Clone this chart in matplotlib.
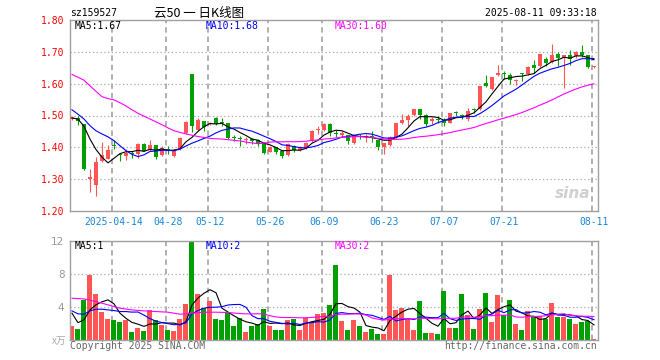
import matplotlib
matplotlib.use("Agg")
import matplotlib.pyplot as plt

# daily candles, 88 trading days ending 2025-08-11
opens = [1.488, 1.491, 1.473, 1.302, 1.283, 1.356, 1.364, 1.408, 1.379, 1.374,
         1.382, 1.379, 1.412, 1.392, 1.407, 1.376, 1.393, 1.372, 1.395, 1.445,
         1.629, 1.455, 1.483, 1.472, 1.493, 1.479, 1.476, 1.431, 1.427, 1.423,
         1.425, 1.423, 1.415, 1.386, 1.400, 1.387, 1.376, 1.405, 1.393, 1.397,
         1.421, 1.455, 1.455, 1.473, 1.444, 1.440, 1.439, 1.414, 1.436, 1.431,
         1.433, 1.423, 1.400, 1.407, 1.431, 1.476, 1.485, 1.501, 1.520, 1.503,
         1.482, 1.487, 1.487, 1.478, 1.509, 1.503, 1.489, 1.518, 1.520, 1.601,
         1.582, 1.628, 1.632, 1.626, 1.608, 1.630, 1.629, 1.660, 1.655, 1.679,
         1.669, 1.692, 1.680, 1.689, 1.686, 1.700, 1.690, 1.652]
closes = [1.496, 1.482, 1.332, 1.303, 1.353, 1.376, 1.392, 1.404, 1.376, 1.383,
          1.378, 1.412, 1.388, 1.407, 1.370, 1.397, 1.390, 1.392, 1.428, 1.480,
          1.466, 1.485, 1.465, 1.478, 1.473, 1.476, 1.430, 1.429, 1.425, 1.426,
          1.421, 1.410, 1.382, 1.400, 1.384, 1.372, 1.410, 1.392, 1.396, 1.414,
          1.452, 1.457, 1.473, 1.445, 1.442, 1.443, 1.419, 1.436, 1.431, 1.436,
          1.431, 1.400, 1.413, 1.433, 1.476, 1.486, 1.499, 1.520, 1.501, 1.474,
          1.488, 1.485, 1.478, 1.507, 1.507, 1.497, 1.515, 1.516, 1.593, 1.593,
          1.622, 1.634, 1.630, 1.613, 1.613, 1.629, 1.653, 1.650, 1.692, 1.664,
          1.689, 1.680, 1.689, 1.678, 1.700, 1.690, 1.653, 1.654]
highs = [1.499, 1.500, 1.473, 1.332, 1.369, 1.416, 1.407, 1.424, 1.380, 1.394,
         1.390, 1.413, 1.414, 1.424, 1.408, 1.403, 1.403, 1.395, 1.431, 1.483,
         1.629, 1.493, 1.484, 1.481, 1.496, 1.493, 1.478, 1.439, 1.436, 1.434,
         1.430, 1.426, 1.416, 1.405, 1.400, 1.390, 1.413, 1.407, 1.403, 1.416,
         1.455, 1.466, 1.476, 1.476, 1.454, 1.452, 1.440, 1.442, 1.442, 1.442,
         1.450, 1.424, 1.413, 1.435, 1.478, 1.504, 1.504, 1.520, 1.520, 1.504,
         1.496, 1.498, 1.491, 1.508, 1.515, 1.504, 1.523, 1.523, 1.593, 1.626,
         1.622, 1.660, 1.640, 1.634, 1.616, 1.632, 1.655, 1.674, 1.692, 1.684,
         1.726, 1.700, 1.689, 1.705, 1.702, 1.720, 1.690, 1.656]
lows = [1.485, 1.470, 1.329, 1.261, 1.246, 1.355, 1.363, 1.395, 1.358, 1.361,
        1.367, 1.367, 1.387, 1.390, 1.364, 1.374, 1.379, 1.370, 1.393, 1.442,
        1.449, 1.452, 1.452, 1.470, 1.470, 1.466, 1.426, 1.420, 1.405, 1.410,
        1.412, 1.405, 1.378, 1.384, 1.378, 1.368, 1.374, 1.384, 1.390, 1.395,
        1.418, 1.441, 1.452, 1.436, 1.433, 1.431, 1.410, 1.410, 1.426, 1.418,
        1.416, 1.393, 1.379, 1.405, 1.430, 1.473, 1.466, 1.499, 1.489, 1.468,
        1.474, 1.478, 1.468, 1.475, 1.497, 1.489, 1.483, 1.507, 1.518, 1.590,
        1.580, 1.624, 1.615, 1.600, 1.595, 1.608, 1.627, 1.634, 1.653, 1.655,
        1.666, 1.657, 1.587, 1.660, 1.681, 1.684, 1.650, 1.650]
# volume in 万
volumes = [1.65, 1.37, 4.86, 7.87, 5.58, 3.45, 2.57, 2.45, 2.2, 2.45,
           1.0, 1.5, 1.1, 3.65, 2.45, 1.8, 1.25, 1.1, 2.57, 4.38,
           11.85, 5.58, 3.93, 4.74, 2.57, 2.45, 3.25, 1.65, 2.69, 1.0,
           1.65, 1.97, 3.78, 1.65, 1.25, 1.25, 2.45, 2.57, 1.25, 2.65,
           2.2, 3.17, 3.29, 4.26, 9.08, 2.33, 1.25, 2.45, 1.73, 1.0,
           1.37, 0.76, 0.76, 7.87, 3.65, 3.9, 2.5, 1.23, 4.74, 0.85,
           0.81, 0.75, 5.94, 1.49, 1.5, 5.58, 3.04, 1.35, 3.77, 5.7,
           2.21, 5.45, 3.03, 4.85, 1.95, 1.23, 3.5, 2.85, 2.9, 2.52,
           4.46, 2.82, 2.82, 2.58, 1.95, 2.21, 2.25, 0.13]

# moving average values before enough days are in the window
ma5_head = [1.492, 1.489, 1.466, 1.426]
ma10_head = [1.518, 1.504, 1.489, 1.468, 1.452, 1.442, 1.433, 1.421, 1.405]
ma30_head = [1.629, 1.620, 1.611, 1.593, 1.576, 1.559, 1.553, 1.549, 1.540, 1.530,
             1.518, 1.507, 1.498, 1.489, 1.480, 1.471, 1.461, 1.452, 1.447, 1.442,
             1.438, 1.434, 1.431, 1.428, 1.427, 1.426, 1.424, 1.422, 1.420]
vma5_head = [3.25, 2.1, 2.45, 3.65]
vma10_head = [3.53, 3.17, 3.13, 3.53, 3.73, 3.73, 3.65, 3.57, 3.45]
vma30_head = [5.06, 5.02, 4.98, 4.82, 4.66, 4.46, 4.26, 4.06, 3.86, 3.75,
              3.65, 3.59, 3.53, 3.49, 3.45, 3.41, 3.37, 3.25, 3.13, 3.19,
              3.25, 3.31, 3.37, 3.37, 3.37, 3.35, 3.33, 3.27, 3.21]

tick_pos = [7, 16, 23, 33, 42, 52, 62, 72, 87]
tick_labels = ["2025-04-14", "04-28", "05-12", "05-26", "06-09", "06-23", "07-07", "07-21", "08-11"]
price_ticks = [1.20, 1.30, 1.40, 1.50, 1.60, 1.70, 1.80]
vol_ticks = [4, 8, 12]


def ma(vals, n, head):
    out = list(head)
    for i in range(len(head), len(vals)):
        out.append(sum(vals[i - n + 1:i + 1]) / n)
    return out


RED = "#ff5555"
GREEN = "#00a000"
GRID = "#aaaaaa"
FRAME = "#a0a0a0"
MONO = "DejaVu Sans Mono"

x = list(range(len(closes)))
up = [c >= o for o, c in zip(opens, closes)]
colors = [RED if u else GREEN for u in up]

fig = plt.figure(figsize=(6.6, 3.6), dpi=100)
ax = fig.add_axes([70 / 660, 1 - 211 / 360, 528 / 660, 191 / 360])
axv = fig.add_axes([70 / 660, 1 - 340 / 360, 528 / 660, 99 / 360])

for a in (ax, axv):
    a.set_xlim(-0.33, len(x) - 0.33)
    for s in a.spines.values():
        s.set_color(FRAME)
        s.set_linewidth(1.0)
    a.tick_params(length=0)
    for t in tick_pos:
        a.axvline(t - 0.25, color=GRID, lw=1.3, dashes=(3, 2.2), zorder=0)

# price panel
ax.set_ylim(1.2, 1.8)
for p in price_ticks[1:-1]:
    ax.axhline(p, color=GRID, lw=0.9, dashes=(1, 2), zorder=0)
ax.vlines(x, lows, highs, colors=colors, lw=0.8, zorder=2)
bottoms = [min(o, c) for o, c in zip(opens, closes)]
heights = [max(abs(c - o), 0.0035) for o, c in zip(opens, closes)]
ax.bar(x, heights, bottom=bottoms, width=0.72, color=colors, lw=0, zorder=3)
ax.plot(x, ma(closes, 5, ma5_head), color="black", lw=0.8, zorder=4)
ax.plot(x, ma(closes, 10, ma10_head), color="#0000ff", lw=0.8, zorder=4)
ax.plot(x, ma(closes, 30, ma30_head), color="#ff00ff", lw=0.8, zorder=4)
ax.set_yticks(price_ticks)
ax.set_yticklabels(["%.2f" % p for p in price_ticks], color="red", family=MONO, fontsize=7)
ax.tick_params(axis="y", pad=4)
ax.set_xticks(tick_pos)
ax.set_xticklabels(tick_labels, color="#1a86d8", family=MONO, fontsize=7)
ax.tick_params(axis="x", pad=4)

ax.text(0.009, 0.968, "MA5:1.67", color="black", family=MONO, fontsize=7,
        transform=ax.transAxes, va="center")
ax.text(0.256, 0.968, "MA10:1.68", color="#0000ff", family=MONO, fontsize=7,
        transform=ax.transAxes, va="center")
ax.text(0.502, 0.968, "MA30:1.60", color="#ff00ff", family=MONO, fontsize=7,
        transform=ax.transAxes, va="center")
ax.text(0.985, 0.09, "sina", color="#d0d0d0", fontsize=11, fontweight="bold",
        style="italic", transform=ax.transAxes, ha="right", va="center", zorder=1)

# volume panel
axv.set_ylim(0, 12)
for v in vol_ticks[:-1]:
    axv.axhline(v, color=GRID, lw=0.9, dashes=(1, 2), zorder=0)
axv.bar(x, volumes, width=0.83, color=colors, lw=0, zorder=2)
axv.plot(x, ma(volumes, 5, vma5_head), color="black", lw=0.8, zorder=4)
axv.plot(x, ma(volumes, 10, vma10_head), color="#0000ff", lw=0.8, zorder=4)
axv.plot(x, ma(volumes, 30, vma30_head), color="#ff00ff", lw=0.8, zorder=4)
axv.set_yticks(vol_ticks)
axv.set_yticklabels([str(v) for v in vol_ticks], color="#999999", fontsize=7.5)
axv.tick_params(axis="y", pad=4)
axv.set_xticks([])
axv.text(0.009, 0.95, "MA5:1", color="black", family=MONO, fontsize=7,
         transform=axv.transAxes, va="center")
axv.text(0.256, 0.95, "MA10:2", color="#0000ff", family=MONO, fontsize=7,
         transform=axv.transAxes, va="center")
axv.text(0.502, 0.95, "MA30:2", color="#ff00ff", family=MONO, fontsize=7,
         transform=axv.transAxes, va="center")

# header / footer
fig.text(70 / 660, 1 - 13 / 360, "sz159527", family=MONO, fontsize=7, va="center")
fig.text(199 / 660, 1 - 13 / 360, "云50 一 日K线图", family=["Noto Sans CJK SC", "DejaVu Sans"],
         fontsize=9, va="center", ha="center")
fig.text(597 / 660, 1 - 13 / 360, "2025-08-11 09:33:18", family=MONO, fontsize=7,
         va="center", ha="right")
fig.text(66 / 660, 1 - 341 / 360, "x万", family=["Noto Sans CJK SC", "DejaVu Sans"],
         color="#aaaaaa", fontsize=7, va="center", ha="right")
fig.text(70 / 660, 1 - 346 / 360, "Copyright 2025 SINA.COM", family=MONO, fontsize=7,
         color="#666666", va="center")
fig.text(597 / 660, 1 - 346 / 360, "http://finance.sina.com.cn", family=MONO, fontsize=7,
         color="#666666", va="center", ha="right")

fig.savefig("out.png", dpi=100)
